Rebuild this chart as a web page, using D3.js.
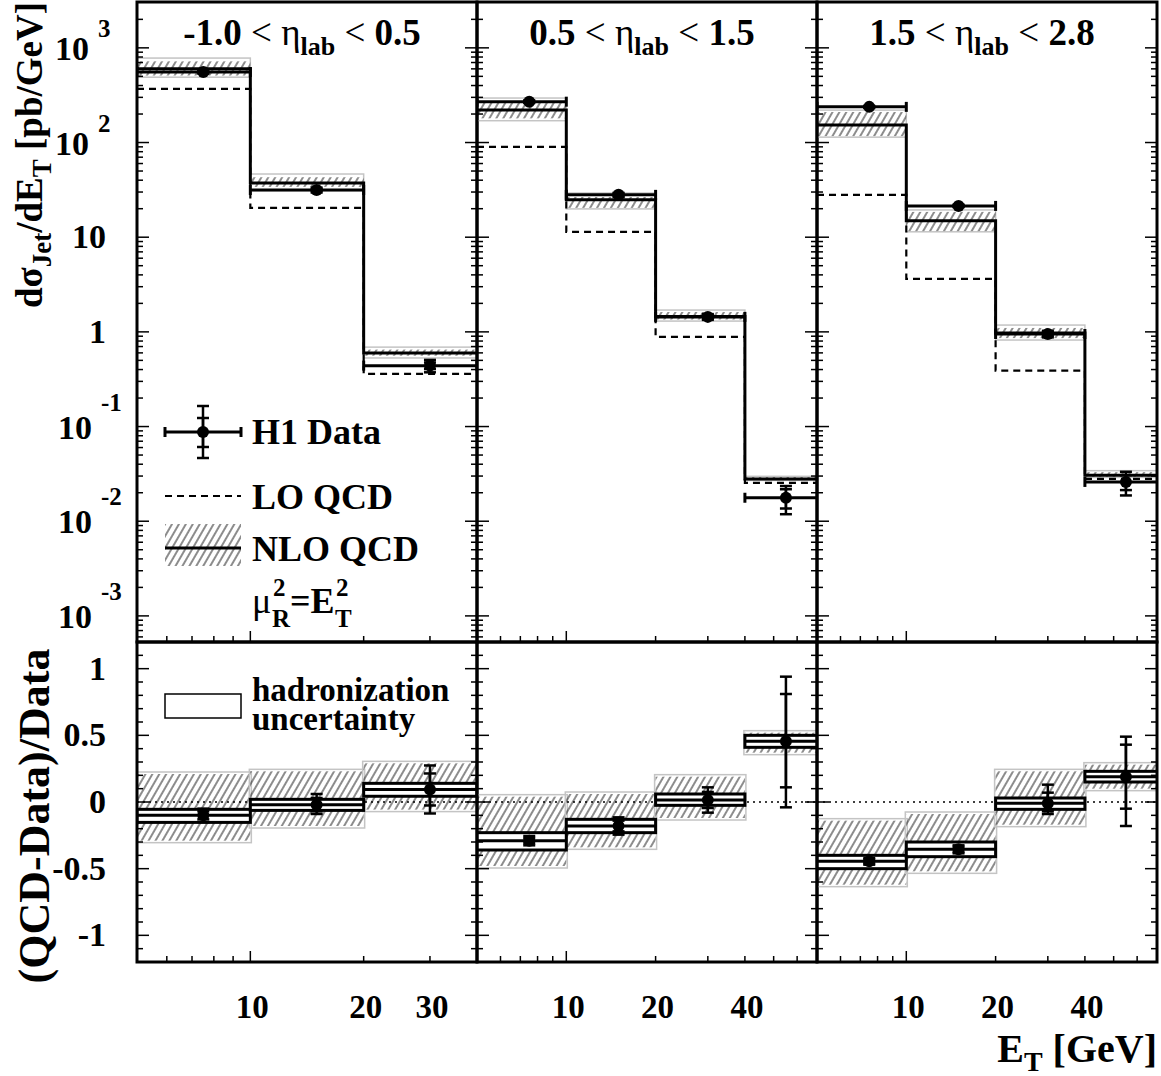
<!DOCTYPE html>
<html>
<head>
<meta charset="utf-8">
<script src="https://cdn.jsdelivr.net/npm/d3@7"></script>
<style>
  body { margin: 0; background: #fff; }
  text { font-family: 'Liberation Serif', 'Times New Roman', serif; font-weight: bold; fill: #000; }
</style>
</head>
<body>
<svg id="chart" width="1161" height="1076"></svg>
<script>
// ---- data ----
const etaRanges = [['-1.0', '0.5'], ['0.5', '1.5'], ['1.5', '2.8']]
const binEdges = [[5, 10, 20, 40], [5, 10, 20, 40, 80], [5, 10, 20, 40, 80]]
const xDomains = [[5, 40], [5, 70], [5, 70]]
const xTickLabels = [[10, 20, 30], [10, 20, 40], [10, 20, 40]]
const xMinorTicks = [[6, 7, 8, 9, 20, 30], [6, 7, 8, 9, 20, 30, 40, 50, 60], [6, 7, 8, 9, 20, 30, 40, 50, 60]]
const meanEt = [[7.5, 15, 30], [7.5, 15, 30, 55], [7.5, 15, 30, 55]]

// cross sections [pb/GeV]
const h1Data = [[556, 31.5, 0.44], [270, 28, 1.44, 0.0177], [238, 21.4, 0.95, 0.026]]
const h1StatRel = [[0.02, 0.03, 0.08], [0.02, 0.03, 0.05, 0.23], [0.015, 0.02, 0.05, 0.18]]
const h1TotRel = [[0.04, 0.06, 0.15], [0.03, 0.05, 0.07, 0.33], [0.025, 0.03, 0.08, 0.28]]
const loQcd = [[368, 20.4, 0.36], [90, 11.4, 0.885, 0.0254], [28, 3.63, 0.39, 0.028]]
const nloQcd = [[600, 37.4, 0.6], [221, 24.8, 1.45, 0.028], [153, 14.9, 0.975, 0.0305]]
const nloScaleLo = [[510, 34, 0.56], [180, 20.4, 1.35, 0.0274], [117, 11.6, 0.86, 0.0295]]
const nloScaleHi = [[720, 43, 0.65], [262, 26.6, 1.62, 0.0293], [210, 18.5, 1.1, 0.033]]
const nloTotLo = [[490, 31, 0.53], [170, 19.9, 1.3, 0.027], [114, 11.4, 0.82, 0.029]]
const nloTotHi = [[780, 46.5, 0.69], [295, 29.3, 1.7, 0.0298], [220, 19.4, 1.18, 0.0342]]

// (QCD-Data)/Data
const ratioNlo = [[-0.10, -0.02, 0.094], [-0.29, -0.18, 0.015, 0.455], [-0.445, -0.355, -0.01, 0.19]]
const ratioHadLo = [[-0.153, -0.063, 0.043], [-0.36, -0.23, -0.025, 0.41], [-0.50, -0.41, -0.055, 0.15]]
const ratioHadHi = [[-0.055, 0.02, 0.14], [-0.23, -0.13, 0.06, 0.50], [-0.40, -0.30, 0.03, 0.23]]
const ratioScaleLo = [[-0.29, -0.18, -0.057], [-0.48, -0.34, -0.12, 0.37], [-0.62, -0.52, -0.17, 0.10]]
const ratioScaleHi = [[0.21, 0.23, 0.29], [0.04, 0.06, 0.19, 0.52], [-0.14, -0.09, 0.23, 0.28]]
const ratioTotDn = [[0.05, 0.07, 0.18], [0.035, 0.065, 0.095, 0.495], [0.025, 0.03, 0.08, 0.37]]
const ratioTotUp = [[0.05, 0.08, 0.18], [0.035, 0.065, 0.095, 0.485], [0.025, 0.03, 0.14, 0.30]]
const ratioStatDn = [[0.03, 0.05, 0.12], [0.02, 0.04, 0.06, 0.345], [0.015, 0.02, 0.06, 0.24]]
const ratioStatUp = [[0.03, 0.05, 0.12], [0.02, 0.04, 0.06, 0.355], [0.015, 0.02, 0.08, 0.24]]

// axis labels
const yTopTicks = [1e3, 1e2, 10, 1, 0.1, 0.01, 0.001]
const yTopMant = ['10', '10', '10', '1', '10', '10', '10']
const yTopExp = ['3', '2', '', '', '-1', '-2', '-3']
const yBotTicks = [1, 0.5, 0, -0.5, -1]
const yBotLabels = ['1', '0.5', '0', '-0.5', '-1']

// ---- layout ----
const panelX = [[137, 477], [477, 817], [817, 1157]]
const topY = [2, 642]
const botY = [642, 962]

const svg = d3.select('#chart')
const defs = svg.append('defs')

defs.append('pattern')
  .attr('id', 'hatch')
  .attr('patternUnits', 'userSpaceOnUse')
  .attr('width', 6)
  .attr('height', 10)
  .attr('patternTransform', 'rotate(30)')
  .append('line')
  .attr('x1', 3).attr('y1', -1).attr('x2', 3).attr('y2', 11)
  .attr('stroke', '#000').attr('stroke-width', 0.9)

const yTop = d3.scaleLog().domain([5.3e-4, 3050]).range([topY[1], topY[0]])
const yBot = d3.scaleLinear().domain([-1.2, 1.2]).range([botY[1], botY[0]])

const line = d3.line()

function vErr(g, cx, yHi, yLo, cap) {
  g.append('line').attr('x1', cx).attr('x2', cx).attr('y1', yHi).attr('y2', yLo)
    .attr('stroke', '#000').attr('stroke-width', 2.5)
  ;[yHi, yLo].forEach(yy => {
    g.append('line').attr('x1', cx - cap).attr('x2', cx + cap).attr('y1', yy).attr('y2', yy)
      .attr('stroke', '#000').attr('stroke-width', 2.5)
  })
}

panelX.forEach(([x0, x1], k) => {
  const x = d3.scaleLog().domain(xDomains[k]).range([x0, x1])
  const edges = binEdges[k]
  const nb = edges.length - 1
  const bins = d3.range(nb)
  const stepPts = vals => vals.flatMap((v, i) => [[x(edges[i]), v], [x(edges[i + 1]), v]])

  // ---------- top panel ----------
  defs.append('clipPath').attr('id', 'clipT' + k)
    .append('rect').attr('x', x0).attr('y', topY[0]).attr('width', x1 - x0).attr('height', topY[1] - topY[0])
  const gT = svg.append('g').attr('clip-path', `url(#clipT${k})`)

  bins.forEach(i => {
    gT.append('rect')
      .attr('x', x(edges[i])).attr('width', x(edges[i + 1]) - x(edges[i]))
      .attr('y', yTop(nloTotHi[k][i])).attr('height', yTop(nloTotLo[k][i]) - yTop(nloTotHi[k][i]))
      .attr('fill', 'none').attr('stroke', '#c4c4c4').attr('stroke-width', 1.5)
    gT.append('rect')
      .attr('x', x(edges[i])).attr('width', x(edges[i + 1]) - x(edges[i]))
      .attr('y', yTop(nloScaleHi[k][i])).attr('height', yTop(nloScaleLo[k][i]) - yTop(nloScaleHi[k][i]))
      .attr('fill', 'url(#hatch)')
  })

  gT.append('path')
    .attr('d', line(stepPts(loQcd[k].map(v => yTop(v)))))
    .attr('fill', 'none').attr('stroke', '#000').attr('stroke-width', 2.2)
    .attr('stroke-dasharray', '7,5')

  gT.append('path')
    .attr('d', line(stepPts(nloQcd[k].map(v => yTop(v)))))
    .attr('fill', 'none').attr('stroke', '#000').attr('stroke-width', 3)

  bins.forEach(i => {
    const v = h1Data[k][i]
    const cx = x(meanEt[k][i])
    const cy = yTop(v)
    const xa = x(edges[i]), xb = x(edges[i + 1])
    gT.append('line').attr('x1', xa).attr('x2', xb).attr('y1', cy).attr('y2', cy)
      .attr('stroke', '#000').attr('stroke-width', 3)
    ;[xa, xb].forEach(xx => {
      gT.append('line').attr('x1', xx).attr('x2', xx).attr('y1', cy - 5).attr('y2', cy + 5)
        .attr('stroke', '#000').attr('stroke-width', 3)
    })
    vErr(gT, cx, yTop(v * (1 + h1TotRel[k][i])), yTop(v * (1 - h1TotRel[k][i])), 6)
    vErr(gT, cx, yTop(v * (1 + h1StatRel[k][i])), yTop(v * (1 - h1StatRel[k][i])), 6)
    gT.append('circle').attr('cx', cx).attr('cy', cy).attr('r', 6).attr('fill', '#000')
  })

  // ---------- bottom panel ----------
  defs.append('clipPath').attr('id', 'clipB' + k)
    .append('rect').attr('x', x0).attr('y', botY[0]).attr('width', x1 - x0).attr('height', botY[1] - botY[0])
  const gB = svg.append('g').attr('clip-path', `url(#clipB${k})`)

  bins.forEach(i => {
    const xa = x(edges[i]), xb = x(edges[i + 1])
    const yh = yBot(ratioScaleHi[k][i]), yl = yBot(ratioScaleLo[k][i])
    gB.append('rect').attr('x', xa - 1).attr('width', xb - xa + 2)
      .attr('y', yh - 2).attr('height', yl - yh + 4)
      .attr('fill', 'none').attr('stroke', '#c4c4c4').attr('stroke-width', 1.5)
    gB.append('rect').attr('x', xa).attr('width', xb - xa)
      .attr('y', yh).attr('height', yl - yh)
      .attr('fill', 'url(#hatch)')
  })

  gB.append('line')
    .attr('x1', x0).attr('x2', x1).attr('y1', yBot(0)).attr('y2', yBot(0))
    .attr('stroke', '#000').attr('stroke-width', 1.6).attr('stroke-dasharray', '2,4')

  bins.forEach(i => {
    const xa = x(edges[i]), xb = x(edges[i + 1])
    const yh = yBot(ratioHadHi[k][i]), yl = yBot(ratioHadLo[k][i])
    gB.append('rect').attr('x', xa).attr('width', xb - xa)
      .attr('y', yh).attr('height', yl - yh)
      .attr('fill', '#fff').attr('stroke', '#000').attr('stroke-width', 3)
    gB.append('line').attr('x1', xa).attr('x2', xb)
      .attr('y1', yBot(ratioNlo[k][i])).attr('y2', yBot(ratioNlo[k][i]))
      .attr('stroke', '#000').attr('stroke-width', 3)
  })

  bins.forEach(i => {
    const r = ratioNlo[k][i]
    const cx = x(meanEt[k][i])
    vErr(gB, cx, yBot(r + ratioTotUp[k][i]), yBot(r - ratioTotDn[k][i]), 6)
    vErr(gB, cx, yBot(r + ratioStatUp[k][i]), yBot(r - ratioStatDn[k][i]), 6)
    gB.append('circle').attr('cx', cx).attr('cy', yBot(r)).attr('r', 6).attr('fill', '#000')
  })

  // ---------- ticks ----------
  const tk = svg.append('g').attr('stroke', '#000').attr('stroke-width', 1.5)
  yTop.ticks().filter(t => yTop(t) > topY[0] + 1 && yTop(t) < topY[1] - 1).forEach(t => {
    const lg = Math.log10(t)
    const len = Math.abs(lg - Math.round(lg)) < 1e-6 ? 12 : 6
    const yy = yTop(t)
    tk.append('line').attr('x1', x0).attr('x2', x0 + len).attr('y1', yy).attr('y2', yy)
    tk.append('line').attr('x1', x1).attr('x2', x1 - len).attr('y1', yy).attr('y2', yy)
  })
  d3.range(-11, 12).forEach(j => {
    const yy = yBot(j / 10)
    const len = j % 5 === 0 ? 12 : 6
    tk.append('line').attr('x1', x0).attr('x2', x0 + len).attr('y1', yy).attr('y2', yy)
    tk.append('line').attr('x1', x1).attr('x2', x1 - len).attr('y1', yy).attr('y2', yy)
  })
  ;[topY[1], botY[1]].forEach(yb => {
    xMinorTicks[k].forEach(t => {
      tk.append('line').attr('x1', x(t)).attr('x2', x(t)).attr('y1', yb).attr('y2', yb - 6)
    })
    tk.append('line').attr('x1', x(10)).attr('x2', x(10)).attr('y1', yb).attr('y2', yb - 11)
  })

  // x tick labels
  xTickLabels[k].forEach(t => {
    svg.append('text').attr('x', x(t) + 2).attr('y', 1018)
      .attr('text-anchor', 'middle').style('font-size', '33px').text(t)
  })

  // panel title
  const title = svg.append('text')
    .attr('x', (x0 + x1) / 2 - 5).attr('y', 45)
    .attr('text-anchor', 'middle').style('font-size', '37px')
  title.append('tspan').text(etaRanges[k][0])
  title.append('tspan').style('font-weight', 'normal').text(' < η')
  title.append('tspan').attr('dy', 10).style('font-size', '26px').text('lab')
  title.append('tspan').attr('dy', -10).style('font-weight', 'normal').text(' < ')
  title.append('tspan').text(etaRanges[k][1])

  // frames
  svg.append('rect').attr('x', x0).attr('y', topY[0]).attr('width', x1 - x0).attr('height', topY[1] - topY[0])
    .attr('fill', 'none').attr('stroke', '#000').attr('stroke-width', 3)
  svg.append('rect').attr('x', x0).attr('y', botY[0]).attr('width', x1 - x0).attr('height', botY[1] - botY[0])
    .attr('fill', 'none').attr('stroke', '#000').attr('stroke-width', 3)
})

// ---- y tick labels ----
yTopTicks.forEach((t, i) => {
  const yy = yTop(t)
  if (yTopExp[i] === '') {
    svg.append('text').attr('x', 106).attr('y', yy + 11).attr('text-anchor', 'end')
      .style('font-size', '34px').text(yTopMant[i])
  } else {
    const neg = yTopExp[i].startsWith('-')
    const xe = neg ? 92 : 89
    svg.append('text').attr('x', xe).attr('y', yy + 12).attr('text-anchor', 'end')
      .style('font-size', '34px').text(yTopMant[i])
    svg.append('text').attr('x', xe + 9).attr('y', yy - (neg ? 16 : 11)).attr('text-anchor', 'start')
      .style('font-size', '25px').text(yTopExp[i])
  }
})
yBotTicks.forEach((t, i) => {
  svg.append('text').attr('x', 106).attr('y', yBot(t) + 11).attr('text-anchor', 'end')
    .style('font-size', '34px').text(yBotLabels[i])
})

// ---- axis titles ----
const yt1 = svg.append('text')
  .attr('transform', 'translate(42,155) rotate(-90)')
  .attr('text-anchor', 'middle').style('font-size', '37px')
yt1.append('tspan').text('dσ')
yt1.append('tspan').attr('dy', 9).style('font-size', '27px').text('Jet')
yt1.append('tspan').attr('dy', -9).text('/dE')
yt1.append('tspan').attr('dy', 9).style('font-size', '27px').text('T')
yt1.append('tspan').attr('dy', -9).text(' [pb/GeV]')

svg.append('text')
  .attr('transform', 'translate(49,816) rotate(-90)')
  .attr('text-anchor', 'middle').style('font-size', '44px')
  .text('(QCD-Data)/Data')

const xt = svg.append('text').attr('x', 1157).attr('y', 1062)
  .attr('text-anchor', 'end').style('font-size', '40px')
xt.append('tspan').text('E')
xt.append('tspan').attr('dy', 9).style('font-size', '28px').text('T')
xt.append('tspan').attr('dy', -9).text(' [GeV]')

// ---- legends ----
const lg = svg.append('g')
lg.append('line').attr('x1', 165).attr('x2', 241).attr('y1', 432).attr('y2', 432)
  .attr('stroke', '#000').attr('stroke-width', 3)
;[165, 241].forEach(xx => {
  lg.append('line').attr('x1', xx).attr('x2', xx).attr('y1', 427).attr('y2', 437)
    .attr('stroke', '#000').attr('stroke-width', 3)
})
vErr(lg, 203, 406, 458, 6)
vErr(lg, 203, 418, 447, 6)
lg.append('circle').attr('cx', 203).attr('cy', 432).attr('r', 6).attr('fill', '#000')
lg.append('text').attr('x', 252).attr('y', 444).style('font-size', '36px').text('H1 Data')

lg.append('line').attr('x1', 165).attr('x2', 241).attr('y1', 496).attr('y2', 496)
  .attr('stroke', '#000').attr('stroke-width', 2.2).attr('stroke-dasharray', '7,5')
lg.append('text').attr('x', 252).attr('y', 509).style('font-size', '36px').text('LO QCD')

lg.append('rect').attr('x', 165).attr('y', 524).attr('width', 76).attr('height', 42).attr('fill', 'url(#hatch)')
lg.append('line').attr('x1', 165).attr('x2', 241).attr('y1', 548).attr('y2', 548)
  .attr('stroke', '#000').attr('stroke-width', 3)
lg.append('text').attr('x', 252).attr('y', 561).style('font-size', '36px').text('NLO QCD')

// mu_R^2 = E_T^2
lg.append('text').attr('x', 252).attr('y', 613).style('font-size', '36px').style('font-weight', 'normal').text('μ')
lg.append('text').attr('x', 272).attr('y', 627).style('font-size', '25px').text('R')
lg.append('text').attr('x', 273).attr('y', 596).style('font-size', '25px').text('2')
lg.append('text').attr('x', 290).attr('y', 613).style('font-size', '36px').text('=E')
lg.append('text').attr('x', 335).attr('y', 627).style('font-size', '25px').text('T')
lg.append('text').attr('x', 336).attr('y', 596).style('font-size', '25px').text('2')

lg.append('rect').attr('x', 165).attr('y', 694).attr('width', 76).attr('height', 24)
  .attr('fill', '#fff').attr('stroke', '#000').attr('stroke-width', 1.5)
lg.append('text').attr('x', 252).attr('y', 701).style('font-size', '33px').text('hadronization')
lg.append('text').attr('x', 252).attr('y', 730).style('font-size', '33px').text('uncertainty')
</script>
</body>
</html>
